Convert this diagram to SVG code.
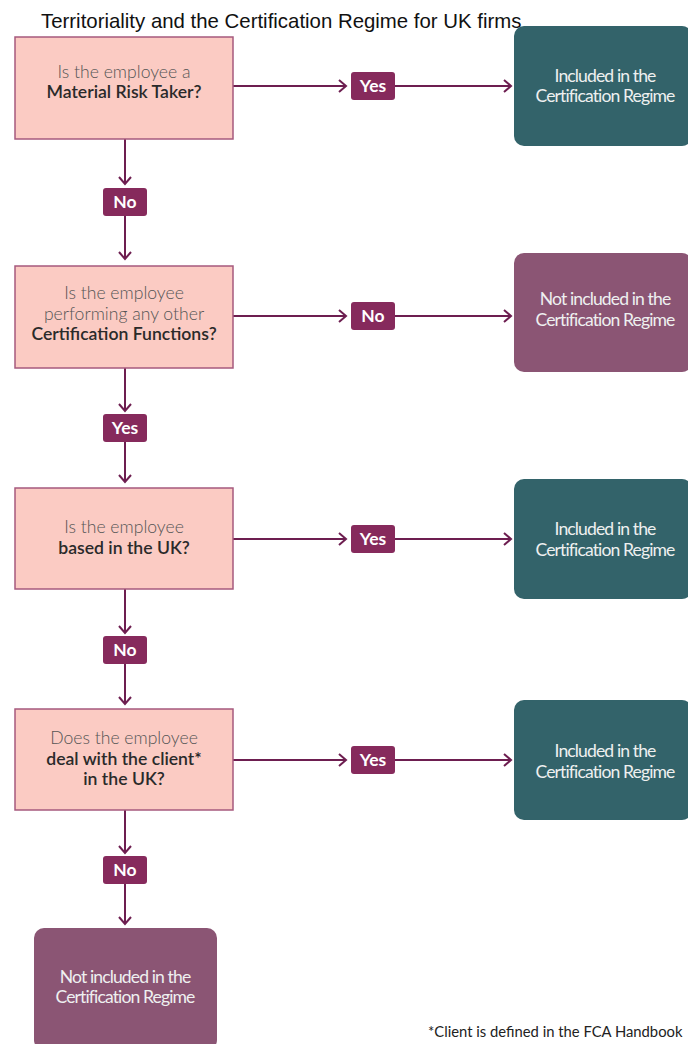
<svg xmlns="http://www.w3.org/2000/svg" width="688" height="1044" viewBox="0 0 688 1044">
<style>
.title{font-family:"Liberation Sans",Arial,sans-serif;font-size:20.4px;fill:#111}
.q{fill:#fbcbc3;stroke:#a65a7e;stroke-width:1.5}
.inc{fill:#33636a}
.not{fill:#8b5574}
.badge{fill:#862a5c}
.bt{font-family:Lato,"Open Sans",sans-serif;font-size:17.5px;font-weight:700;fill:#fff;text-anchor:middle}
.ql{font-family:Lato,"Open Sans",sans-serif;font-size:17.6px;font-weight:300;fill:#555;text-anchor:middle}
.qb{font-family:Lato,"Open Sans",sans-serif;font-size:17.6px;font-weight:600;fill:#2a2a2a;text-anchor:middle}
.rt{font-family:Lato,"Open Sans",sans-serif;font-size:17.6px;font-weight:400;fill:#eef0f0;text-anchor:middle;letter-spacing:-0.9px}
.c{stroke:#6d1e50;stroke-width:2;fill:none}
.fn{font-family:Lato,"Open Sans",sans-serif;font-size:14.8px;fill:#222}
</style>
<defs>
<marker id="chev" markerWidth="12" markerHeight="14" refX="8" refY="7" orient="auto" markerUnits="userSpaceOnUse">
<path d="M1,1 L8,7 L1,13" fill="none" stroke="#6d1e50" stroke-width="2"/>
</marker>
</defs>
<text class="title" x="41" y="28">Territoriality and the Certification Regime for UK firms</text>

<g id="connectors">
<line class="c" x1="233" y1="86" x2="346" y2="86" marker-end="url(#chev)"/>
<line class="c" x1="395" y1="86" x2="511" y2="86" marker-end="url(#chev)"/>
<line class="c" x1="233" y1="316" x2="346" y2="316" marker-end="url(#chev)"/>
<line class="c" x1="395" y1="316" x2="511" y2="316" marker-end="url(#chev)"/>
<line class="c" x1="233" y1="539" x2="346" y2="539" marker-end="url(#chev)"/>
<line class="c" x1="395" y1="539" x2="511" y2="539" marker-end="url(#chev)"/>
<line class="c" x1="233" y1="760" x2="346" y2="760" marker-end="url(#chev)"/>
<line class="c" x1="395" y1="760" x2="511" y2="760" marker-end="url(#chev)"/>
<line class="c" x1="125" y1="139" x2="125" y2="184" marker-end="url(#chev)"/>
<line class="c" x1="125" y1="216" x2="125" y2="259" marker-end="url(#chev)"/>
<line class="c" x1="125" y1="368" x2="125" y2="411" marker-end="url(#chev)"/>
<line class="c" x1="125" y1="442" x2="125" y2="482" marker-end="url(#chev)"/>
<line class="c" x1="125" y1="589" x2="125" y2="633" marker-end="url(#chev)"/>
<line class="c" x1="125" y1="664" x2="125" y2="704" marker-end="url(#chev)"/>
<line class="c" x1="125" y1="810" x2="125" y2="853" marker-end="url(#chev)"/>
<line class="c" x1="125" y1="884" x2="125" y2="924" marker-end="url(#chev)"/>
</g>

<g id="badges">
<g id="b1"><rect class="badge" x="351" y="72" width="44" height="28" rx="3"/><text class="bt" x="373" y="92">Yes</text></g>
<g id="b2"><rect class="badge" x="103" y="188" width="44" height="28" rx="3"/><text class="bt" x="125" y="208">No</text></g>
<g id="b3"><rect class="badge" x="351" y="302" width="44" height="28" rx="3"/><text class="bt" x="373" y="322">No</text></g>
<g id="b4"><rect class="badge" x="103" y="414" width="44" height="28" rx="3"/><text class="bt" x="125" y="434">Yes</text></g>
<g id="b5"><rect class="badge" x="351" y="525" width="44" height="28" rx="3"/><text class="bt" x="373" y="545">Yes</text></g>
<g id="b6"><rect class="badge" x="103" y="636" width="44" height="28" rx="3"/><text class="bt" x="125" y="656">No</text></g>
<g id="b7"><rect class="badge" x="351" y="746" width="44" height="28" rx="3"/><text class="bt" x="373" y="766">Yes</text></g>
<g id="b8"><rect class="badge" x="103" y="856" width="44" height="28" rx="3"/><text class="bt" x="125" y="876">No</text></g>
</g>

<g id="q1"><rect class="q" x="15" y="37" width="218" height="102"/>
<text class="ql" x="124" y="78">Is the employee a</text>
<text class="qb" x="124" y="98">Material Risk Taker?</text></g>

<g id="q2"><rect class="q" x="15" y="266" width="218" height="102"/>
<text class="ql" x="124" y="299">Is the employee</text>
<text class="ql" x="124" y="320">performing any other</text>
<text class="qb" x="124" y="340">Certification Functions?</text></g>

<g id="q3"><rect class="q" x="15" y="488" width="218" height="101"/>
<text class="ql" x="124" y="533">Is the employee</text>
<text class="qb" x="124" y="554">based in the UK?</text></g>

<g id="q4"><rect class="q" x="15" y="709" width="218" height="101"/>
<text class="ql" x="124" y="744">Does the employee</text>
<text class="qb" x="124" y="765">deal with the client*</text>
<text class="qb" x="124" y="785">in the UK?</text></g>

<g id="r1"><rect class="inc" x="514" y="26" width="178" height="120" rx="10"/>
<text class="rt" x="605" y="82">Included in the</text>
<text class="rt" x="605" y="102">Certification Regime</text></g>

<g id="r2"><rect class="not" x="514" y="253" width="178" height="119" rx="10"/>
<text class="rt" x="605" y="305">Not included in the</text>
<text class="rt" x="605" y="326">Certification Regime</text></g>

<g id="r3"><rect class="inc" x="514" y="479" width="178" height="120" rx="10"/>
<text class="rt" x="605" y="535">Included in the</text>
<text class="rt" x="605" y="556">Certification Regime</text></g>

<g id="r4"><rect class="inc" x="514" y="700" width="178" height="120" rx="10"/>
<text class="rt" x="605" y="757">Included in the</text>
<text class="rt" x="605" y="778">Certification Regime</text></g>

<g id="r5"><rect class="not" x="34" y="928" width="183" height="122" rx="10"/>
<text class="rt" x="125" y="983">Not included in the</text>
<text class="rt" x="125" y="1003">Certification Regime</text></g>

<text class="fn" x="428" y="1037">*Client is defined in the FCA Handbook</text>
</svg>
